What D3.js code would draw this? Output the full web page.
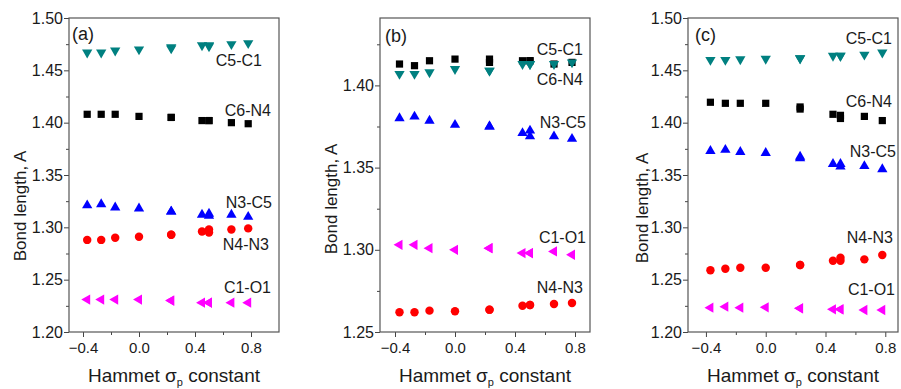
<!DOCTYPE html>
<html>
<head>
<meta charset="utf-8">
<script src="https://cdn.jsdelivr.net/npm/d3@7/dist/d3.min.js"></script>
<style>
  body { margin: 0; background: #fff; }
  text { font-family: "Liberation Sans", Arial, sans-serif; fill: #1a1a1a; }
</style>
</head>
<body>
<div id="chart"></div>
<script>
// Hammett sigma_p of the substituents (two pairs share a value)
var sigma = [-0.37, -0.27, -0.17, 0.0, 0.23, 0.23, 0.45, 0.50, 0.50, 0.66, 0.78];

// panel (a)
var aC5C1 = [1.467, 1.467, 1.469, 1.470, 1.472, 1.471, 1.474, 1.474, 1.473, 1.475, 1.476];
var aC6N4 = [1.408, 1.408, 1.408, 1.406, 1.405, 1.405, 1.402, 1.402, 1.402, 1.400, 1.399];
var aN3C5 = [1.321, 1.322, 1.319, 1.318, 1.315, 1.315, 1.312, 1.313, 1.311, 1.312, 1.310];
var aN4N3 = [1.288, 1.288, 1.290, 1.291, 1.293, 1.293, 1.296, 1.298, 1.295, 1.298, 1.299];
var aC1O1 = [1.231, 1.231, 1.231, 1.231, 1.230, 1.230, 1.228, 1.228, 1.228, 1.228, 1.228];

// panel (b)
var bC6N4 = [1.413, 1.412, 1.415, 1.416, 1.416, 1.414, 1.415, 1.415, 1.415, 1.413, 1.414];
var bC5C1 = [1.407, 1.407, 1.408, 1.410, 1.409, 1.409, 1.413, 1.413, 1.413, 1.413, 1.414];
var bN3C5 = [1.380, 1.381, 1.3785, 1.376, 1.375, 1.375, 1.371, 1.3725, 1.369, 1.369, 1.3675];
var bC1O1 = [1.303, 1.303, 1.301, 1.300, 1.301, 1.301, 1.298, 1.298, 1.298, 1.299, 1.297];
var bN4N3 = [1.262, 1.262, 1.263, 1.2626, 1.2636, 1.2636, 1.266, 1.2664, 1.2664, 1.267, 1.2676];

// panel (c)
var cC5C1 = [1.460, 1.460, 1.4605, 1.461, 1.4615, 1.4615, 1.464, 1.464, 1.464, 1.465, 1.467];
var cC6N4 = [1.4195, 1.4185, 1.4185, 1.4185, 1.415, 1.413, 1.408, 1.407, 1.404, 1.406, 1.402];
var cN3C5 = [1.373, 1.374, 1.372, 1.371, 1.3675, 1.366, 1.3605, 1.3605, 1.358, 1.3585, 1.3555];
var cN4N3 = [1.259, 1.2605, 1.2614, 1.2614, 1.264, 1.264, 1.268, 1.271, 1.268, 1.2694, 1.2735];
var cC1O1 = [1.2232, 1.2242, 1.2232, 1.2236, 1.2226, 1.2226, 1.2217, 1.2217, 1.2217, 1.221, 1.221];

// axis ticks
var xMajor = [-0.4, 0.0, 0.4, 0.8];
var xMinor = [-0.2, 0.2, 0.6];
var yMajorAC = [1.20, 1.25, 1.30, 1.35, 1.40, 1.45, 1.50];
var yMinorAC = [1.225, 1.275, 1.325, 1.375, 1.425, 1.475];
var yMajorB = [1.25, 1.30, 1.35, 1.40];
var yMinorB = [1.275, 1.325, 1.375, 1.425];

var width = 901;
var height = 389;
var top_ = 18, bottom = 332;

// marker styles per bond
var styles = {
  "C5-C1": { color: "#008080", rot: 180 },
  "C6-N4": { color: "#000000", square: true },
  "N3-C5": { color: "#0000ff", rot: 0 },
  "N4-N3": { color: "#ff0000", circle: true },
  "C1-O1": { color: "#ff00ff", rot: -90 }
};

var panels = [
  { tag: "(a)", left: 69, right: 279, xDom: [-0.5, 1.0], yDom: [1.20, 1.50],
    yMajor: yMajorAC, yMinor: yMinorAC, tagPos: [72, 40], titleX: 26, titleY: 206,
    series: [["C5-C1", aC5C1], ["C6-N4", aC6N4], ["N3-C5", aN3C5], ["N4-N3", aN4N3], ["C1-O1", aC1O1]],
    labels: [["C5-C1", 262, 66], ["C6-N4", 271, 116], ["N3-C5", 272, 208], ["N4-N3", 269, 250], ["C1-O1", 271, 293]] },
  { tag: "(b)", left: 380, right: 590, xDom: [-0.5, 0.9], yDom: [1.25, 1.441],
    yMajor: yMajorB, yMinor: yMinorB, tagPos: [385, 42], titleX: 337, titleY: 199,
    series: [["C6-N4", bC6N4], ["C5-C1", bC5C1], ["N3-C5", bN3C5], ["C1-O1", bC1O1], ["N4-N3", bN4N3]],
    labels: [["C5-C1", 583, 55], ["C6-N4", 583, 85], ["N3-C5", 586, 128], ["C1-O1", 586, 243], ["N4-N3", 583, 293]] },
  { tag: "(c)", left: 688, right: 898, xDom: [-0.52, 0.885], yDom: [1.20, 1.50],
    yMajor: yMajorAC, yMinor: yMinorAC, tagPos: [695, 41], titleX: 648, titleY: 208,
    series: [["C5-C1", cC5C1], ["C6-N4", cC6N4], ["N3-C5", cN3C5], ["N4-N3", cN4N3], ["C1-O1", cC1O1]],
    labels: [["C5-C1", 892, 44], ["C6-N4", 892, 107], ["N3-C5", 896, 157], ["N4-N3", 893, 243], ["C1-O1", 895, 295]] }
];

var svg = d3.select("#chart").append("svg")
  .attr("width", width)
  .attr("height", height);

panels.forEach(function(p) {
  var x = d3.scaleLinear().domain(p.xDom).range([p.left, p.right]);
  var y = d3.scaleLinear().domain(p.yDom).range([bottom, top_]);
  var g = svg.append("g");

  // minor ticks
  g.append("g")
    .attr("transform", "translate(0," + bottom + ")")
    .call(d3.axisBottom(x).tickValues(xMinor).tickSize(3).tickFormat(""));
  g.append("g")
    .attr("transform", "translate(" + p.left + ",0)")
    .call(d3.axisLeft(y).tickValues(p.yMinor).tickSize(3).tickFormat(""));

  // major ticks with labels
  var xa = g.append("g")
    .attr("transform", "translate(0," + bottom + ")")
    .call(d3.axisBottom(x).tickValues(xMajor).tickSize(5).tickPadding(5).tickFormat(d3.format(".1f")));
  xa.selectAll("text").style("font-size", "15px").attr("dy", "0.71em");
  var ya = g.append("g")
    .attr("transform", "translate(" + p.left + ",0)")
    .call(d3.axisLeft(y).tickValues(p.yMajor).tickSize(5).tickPadding(1).tickFormat(d3.format(".2f")));
  ya.selectAll("text").style("font-size", "16px");

  g.selectAll(".domain").remove();
  g.selectAll(".tick line").attr("stroke", "#444");
  g.selectAll(".tick text").attr("fill", "#1a1a1a").style("font-family", "Liberation Sans, Arial, sans-serif");

  // frame
  g.append("rect")
    .attr("x", p.left).attr("y", top_)
    .attr("width", p.right - p.left).attr("height", bottom - top_)
    .attr("fill", "none").attr("stroke", "#555").attr("stroke-width", 1.2);

  // markers
  p.series.forEach(function(s) {
    var st = styles[s[0]];
    var sym = st.square ? d3.symbolSquare : (st.circle ? d3.symbolCircle : d3.symbolTriangle);
    var size = st.square ? 52 : (st.circle ? 56 : 46);
    g.selectAll(null)
      .data(s[1])
      .enter()
      .append("path")
      .attr("d", d3.symbol().type(sym).size(size))
      .attr("transform", function(d, i) {
        return "translate(" + x(sigma[i]) + "," + y(d) + ")" + (st.rot ? "rotate(" + st.rot + ")" : "");
      })
      .attr("fill", st.color);
  });

  // bond labels
  p.labels.forEach(function(l) {
    g.append("text")
      .attr("x", l[1]).attr("y", l[2])
      .attr("text-anchor", "end")
      .style("font-size", "16px")
      .text(l[0]);
  });

  // panel tag
  g.append("text")
    .attr("x", p.tagPos[0]).attr("y", p.tagPos[1])
    .style("font-size", "18px")
    .text(p.tag);

  // y title
  g.append("text")
    .attr("transform", "translate(" + p.titleX + "," + p.titleY + ")rotate(-90)")
    .attr("text-anchor", "middle")
    .style("font-size", "17px")
    .text("Bond length, A");

  // x title
  var xt = g.append("text")
    .attr("x", (p.left + p.right) / 2)
    .attr("y", 382)
    .attr("text-anchor", "middle")
    .style("font-size", "19px");
  xt.append("tspan").text("Hammet \u03c3");
  xt.append("tspan").attr("dy", 4).style("font-size", "11px").text("p");
  xt.append("tspan").attr("dy", -4).text(" constant");
});
</script>
</body>
</html>
